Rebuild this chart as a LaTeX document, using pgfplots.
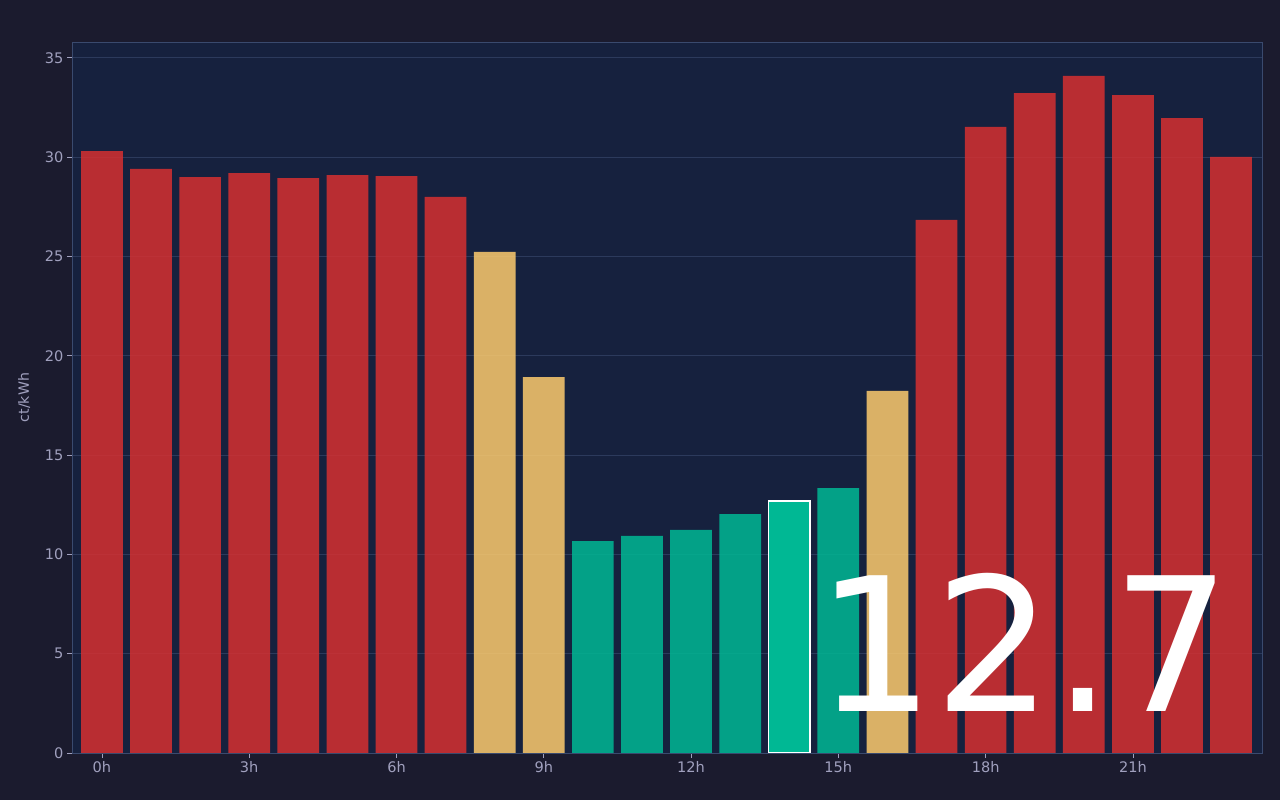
\documentclass[border=0pt]{standalone}
\usepackage{pgfplots}
\pgfplotsset{compat=1.18}
\usepackage{fontspec}
\setmainfont{DejaVu Sans}
\definecolor{figbg}{RGB}{27,27,46}
\definecolor{axbg}{RGB}{22,33,62}
\definecolor{spine}{RGB}{58,74,110}
\definecolor{gridc}{RGB}{44,58,92}
\definecolor{txt}{RGB}{160,160,190}
\definecolor{cred}{HTML}{D63031}
\definecolor{cgold}{HTML}{FDCB6E}
\definecolor{cteal}{HTML}{00B894}
\pgfplotstableread{
x y
0 30.31
1 29.41
2 29.00
3 29.20
4 28.95
5 29.10
6 29.05
7 28.00
17 26.84
18 31.52
19 33.23
20 34.09
21 33.13
22 31.97
23 30.01
}\redtab
\pgfplotstableread{
x y
8 25.23
9 18.93
16 18.23
}\goldtab
\pgfplotstableread{
x y
10 10.67
11 10.93
12 11.23
13 12.03
15 13.34
}\tealtab
\pgfplotstableread{
x y
14 12.70
}\hltab
\begin{document}
\begin{tikzpicture}
\fill[figbg] (0,0) rectangle (1280bp,800bp);
\begin{axis}[
  at={(72bp,47bp)}, anchor=south west,
  scale only axis, width=1190bp, height=711bp,
  xmin=-0.61, xmax=23.63, ymin=0, ymax=35.8,
  axis background/.style={fill=axbg},
  axis line style={spine, line width=0.8pt},
  xtick={0,3,...,21},
  xticklabels={0h,3h,6h,9h,12h,15h,18h,21h},
  ytick={0,5,...,35},
  tick align=outside, tick pos=lower,
  major tick length=5bp,
  tick style={txt, line width=0.8pt},
  ymajorgrids, grid style={gridc, line width=0.8pt},
  ticklabel style={font=\fontsize{14.6}{16}\selectfont, text=txt},
  /pgf/number format/assume math mode=true,
  ylabel={ct/kWh},
  ylabel style={font=\fontsize{14.2}{16}\selectfont, text=txt},
  ylabel shift=8bp,
  ybar, bar width=0.85, bar shift=0pt,
  axis on top=false,
]
\addplot[draw=none, fill=cred, fill opacity=0.85] table[x=x,y=y]{\redtab};
\addplot[draw=none, fill=cgold, fill opacity=0.85] table[x=x,y=y]{\goldtab};
\addplot[draw=none, fill=cteal, fill opacity=0.85] table[x=x,y=y]{\tealtab};
\addplot[draw=white, line width=1.5bp, fill=cteal] table[x=x,y=y]{\hltab};
\node[anchor=base east, inner sep=0pt, text=white, font=\fontsize{187}{200}\selectfont]
  at (rel axis cs:0.974,0.059) {12.7};
\end{axis}
\end{tikzpicture}
\end{document}
